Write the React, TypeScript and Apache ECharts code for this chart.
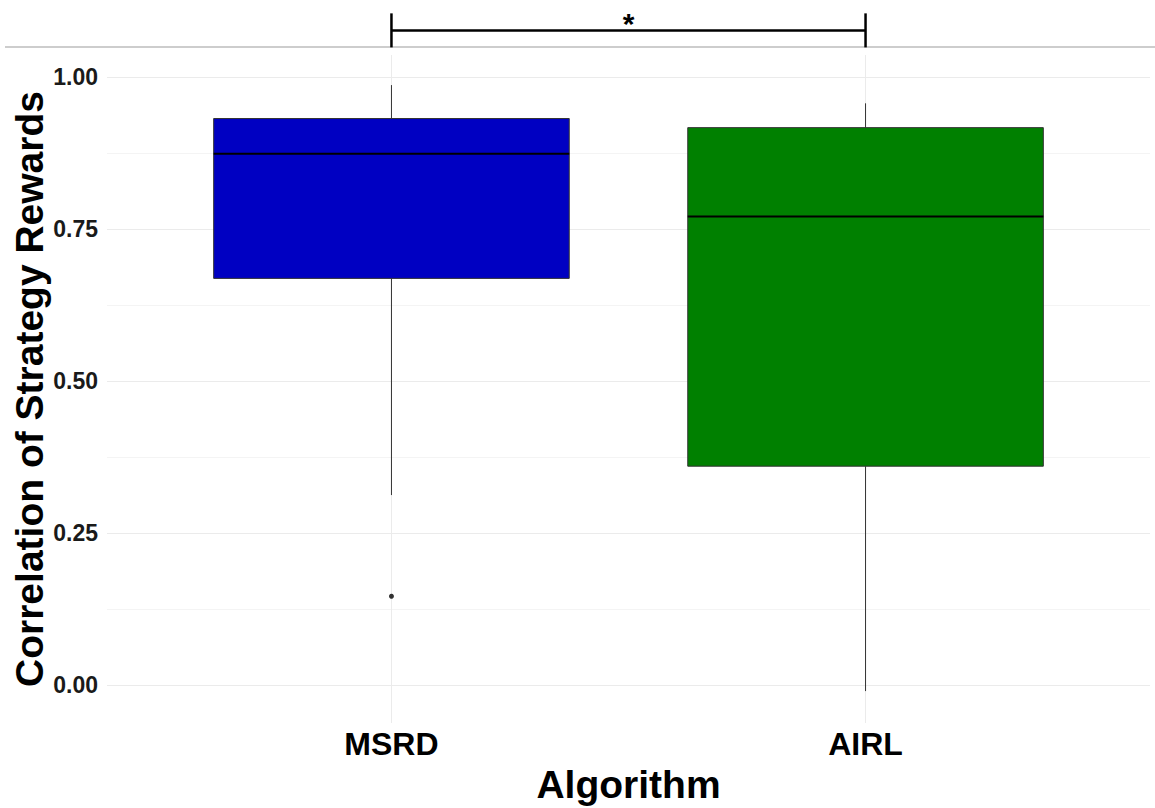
import React, { useEffect, useRef } from "react";
import * as echarts from "echarts";

// ---- data ----
const categories = ["MSRD", "AIRL"];
const fills = ["#0000C2", "#008000"];
// [min whisker, Q1, median, Q3, max whisker]
const msrdStats = [0.3125, 0.669, 0.874, 0.932, 0.987];
const airlStats = [-0.01, 0.36, 0.771, 0.917, 0.957];
const outliers = [[0, 0.146]]; // [category index, value]
// significance bracket: [from cat, to cat, bar level, tick bottom, tick top]
const bracket = [0, 1, 1.077, 1.049, 1.105];
const bracketLabel = "*";
const yMajorTicks = [0, 0.25, 0.5, 0.75, 1.0];

const FONT = "'Liberation Sans', Arial, sans-serif";
const NONE = "rgba(0,0,0,0)";

export default function App() {
  const ref = useRef<HTMLDivElement>(null);
  useEffect(() => {
    if (!ref.current) return;
    const chart = echarts.init(ref.current, undefined, { renderer: "svg" });
    const boxData = [msrdStats, airlStats].map((s, i) => [i, ...s]);

    chart.setOption({
      animation: false,
      backgroundColor: "#ffffff",
      grid: {
        left: 107,
        right: 5,
        top: 55,
        bottom: 85,
        containLabel: false,
        outerBoundsMode: "none",
      },
      graphic: [
        {
          type: "line",
          shape: { x1: 5, y1: 47, x2: 1155, y2: 47 },
          style: { stroke: "#bdbdbd", lineWidth: 1.5 },
          z: 0,
        },
      ],
      xAxis: {
        type: "value",
        min: -0.6,
        max: 1.6,
        interval: 0.2,
        axisLine: { show: false },
        axisTick: { show: false },
        axisLabel: {
          margin: 5,
          fontFamily: FONT,
          fontWeight: "bold",
          fontSize: 32,
          color: "#000",
          formatter: (v: number) => {
            for (let i = 0; i < categories.length; i++) {
              if (Math.abs(v - i) < 1e-6) return categories[i];
            }
            return "";
          },
        },
        splitLine: {
          show: true,
          lineStyle: { color: [NONE, NONE, NONE, "#ebebeb", NONE], width: 1 },
        },
        name: "Algorithm",
        nameLocation: "middle",
        nameGap: 40,
        nameTextStyle: { fontFamily: FONT, fontWeight: "bold", fontSize: 39, color: "#000" },
      },
      yAxis: {
        type: "value",
        min: -0.0625,
        max: 1.0365,
        interval: 0.0625,
        axisLine: { show: false },
        axisTick: { show: false },
        axisLabel: {
          margin: 9,
          fontFamily: FONT,
          fontWeight: "bold",
          fontSize: 23,
          color: "#1a1a1a",
          formatter: (v: number) => {
            const hit = yMajorTicks.find((t) => Math.abs(t - v) < 1e-6);
            return hit === undefined ? "" : hit.toFixed(2);
          },
        },
        splitLine: {
          show: true,
          lineStyle: { color: [NONE, "#ebebeb", NONE, "#f4f4f4"], width: 1 },
        },
        name: "Correlation of Strategy Rewards",
        nameLocation: "middle",
        nameGap: 58,
        nameMoveOverlap: false,
        nameRotate: 90,
        nameTextStyle: { fontFamily: FONT, fontWeight: "bold", fontSize: 39, color: "#000" },
      },
      series: [
        {
          type: "custom",
          z: 3,
          clip: false,
          data: boxData,
          encode: { x: 0, y: [1, 2, 3, 4, 5] },
          renderItem: (params: any, api: any) => {
            const x = api.value(0);
            const mn = api.coord([x, api.value(1)]);
            const q1 = api.coord([x, api.value(2)]);
            const md = api.coord([x, api.value(3)]);
            const q3 = api.coord([x, api.value(4)]);
            const mx = api.coord([x, api.value(5)]);
            const w = api.size([0.75, 0])[0];
            return {
              type: "group",
              children: [
                { type: "line", shape: { x1: mx[0], y1: mx[1], x2: q3[0], y2: q3[1] }, style: { stroke: "#333333", lineWidth: 1 } },
                { type: "line", shape: { x1: q1[0], y1: q1[1], x2: mn[0], y2: mn[1] }, style: { stroke: "#333333", lineWidth: 1 } },
                {
                  type: "rect",
                  shape: { x: q3[0] - w / 2, y: q3[1], width: w, height: q1[1] - q3[1] },
                  style: { fill: fills[params.dataIndex], stroke: "#333333", lineWidth: 1 },
                },
                {
                  type: "line",
                  shape: { x1: md[0] - w / 2, y1: md[1], x2: md[0] + w / 2, y2: md[1] },
                  style: { stroke: "#000000", lineWidth: 2 },
                },
              ],
            };
          },
        },
        {
          type: "scatter",
          z: 4,
          data: outliers,
          symbol: "circle",
          symbolSize: 5,
          itemStyle: { color: "#000" },
        },
        {
          type: "custom",
          z: 5,
          clip: false,
          data: [bracket],
          renderItem: (params: any, api: any) => {
            const a = api.value(0);
            const b = api.value(1);
            const lvl = api.value(2);
            const pa = api.coord([a, lvl]);
            const pb = api.coord([b, lvl]);
            const paLo = api.coord([a, api.value(3)]);
            const paHi = api.coord([a, api.value(4)]);
            const pbLo = api.coord([b, api.value(3)]);
            const pbHi = api.coord([b, api.value(4)]);
            const st = { stroke: "#000", lineWidth: 2.5 };
            return {
              type: "group",
              children: [
                { type: "line", shape: { x1: pa[0], y1: pa[1], x2: pb[0], y2: pb[1] }, style: st },
                { type: "line", shape: { x1: paLo[0], y1: paLo[1], x2: paHi[0], y2: paHi[1] }, style: st },
                { type: "line", shape: { x1: pbLo[0], y1: pbLo[1], x2: pbHi[0], y2: pbHi[1] }, style: st },
                {
                  type: "text",
                  x: (pa[0] + pb[0]) / 2,
                  y: pa[1] + 8,
                  style: {
                    text: bracketLabel,
                    fontFamily: FONT,
                    fontWeight: "bold",
                    fontSize: 30,
                    fill: "#000",
                    align: "center",
                    verticalAlign: "bottom",
                  },
                },
              ],
            };
          },
        },
      ],
    });
    return () => chart.dispose();
  }, []);
  return (
    <div
      ref={ref}
      style={{ position: "fixed", left: 0, top: 0, width: 1155, height: 808 }}
    />
  );
}
